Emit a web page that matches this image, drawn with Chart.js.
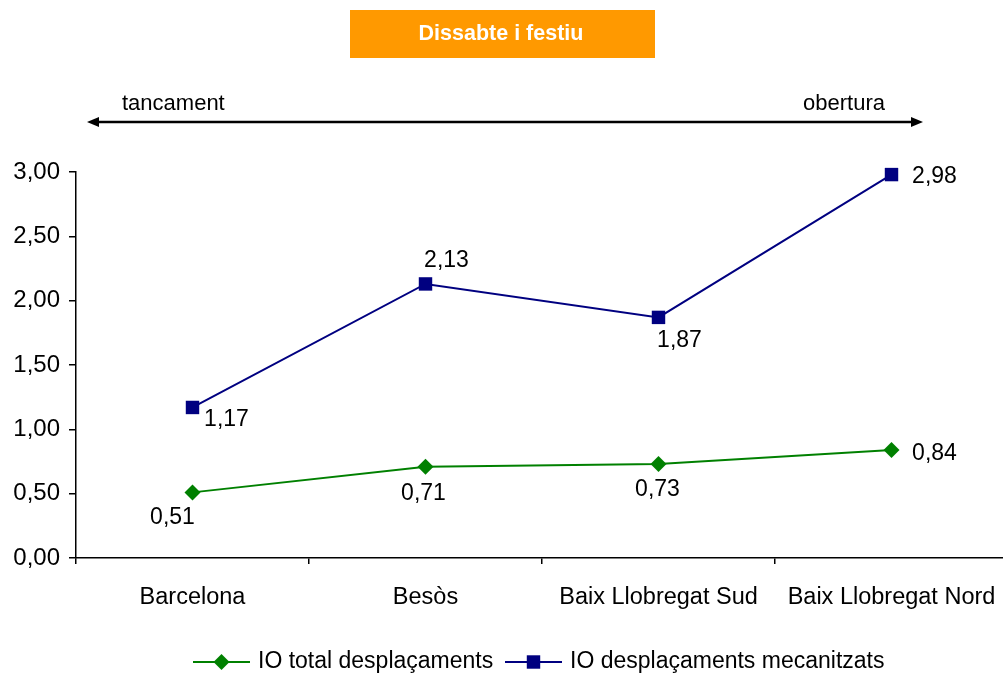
<!DOCTYPE html>
<html>
<head>
<meta charset="utf-8">
<style>
  html, body { margin: 0; padding: 0; background: #fff; overflow: hidden; }
  #wrap { width: 1040px; height: 675px; position: relative; }
</style>
<script src="https://cdn.jsdelivr.net/npm/chart.js@4/dist/chart.umd.min.js"></script>
</head>
<body>
<div id="wrap"><canvas id="chart" width="1040" height="675"></canvas></div>
<script>
// Zones and index values (dissabte i festiu)
const categories = ['Barcelona', 'Besòs', 'Baix Llobregat Sud', 'Baix Llobregat Nord'];
const ioTotal = [0.51, 0.71, 0.73, 0.84];
const ioMecanitzats = [1.17, 2.13, 1.87, 2.98];
const yMin = 0;
const yMax = 3;
const yStep = 0.5;

const FONT = '"Liberation Sans", Arial, sans-serif';
const GREEN = '#008000';
const NAVY = '#000080';

const fmt = v => v.toFixed(2).replace('.', ',');

// Where each value label sits relative to its marker (dx, dy of the label centre)
const labelOffsets = [
  [[-20, 25], [-2, 27], [-1, 26], [43, 4]],
  [[34, 12], [21, -23], [21, 23], [43, 2]]
];

const valueLabels = {
  id: 'valueLabels',
  afterDatasetsDraw(chart) {
    const ctx = chart.ctx;
    ctx.save();
    ctx.font = '23px ' + FONT;
    ctx.fillStyle = '#000';
    ctx.textAlign = 'center';
    ctx.textBaseline = 'middle';
    chart.data.datasets.forEach((ds, di) => {
      const meta = chart.getDatasetMeta(di);
      meta.data.forEach((pt, i) => {
        const off = labelOffsets[di][i];
        ctx.fillText(fmt(ds.data[i]), pt.x + off[0], pt.y + off[1]);
      });
    });
    ctx.restore();
  }
};

const decorations = {
  id: 'decorations',
  afterDraw(chart) {
    const ctx = chart.ctx;
    ctx.save();
    // heading box
    ctx.fillStyle = '#FF9900';
    ctx.fillRect(350, 10, 305, 48);
    ctx.fillStyle = '#fff';
    ctx.font = 'bold 21.5px ' + FONT;
    ctx.textAlign = 'center';
    ctx.textBaseline = 'middle';
    ctx.fillText('Dissabte i festiu', 501, 34);

    // double-headed arrow
    const ay = 122, ax1 = 87, ax2 = 923;
    ctx.strokeStyle = '#000';
    ctx.lineWidth = 2.5;
    ctx.beginPath();
    ctx.moveTo(ax1 + 8, ay);
    ctx.lineTo(ax2 - 8, ay);
    ctx.stroke();
    ctx.fillStyle = '#000';
    ctx.beginPath();
    ctx.moveTo(ax1, ay); ctx.lineTo(ax1 + 12, ay - 5); ctx.lineTo(ax1 + 12, ay + 5); ctx.closePath();
    ctx.fill();
    ctx.beginPath();
    ctx.moveTo(ax2, ay); ctx.lineTo(ax2 - 12, ay - 5); ctx.lineTo(ax2 - 12, ay + 5); ctx.closePath();
    ctx.fill();
    ctx.font = '22px ' + FONT;
    ctx.textAlign = 'left';
    ctx.fillText('tancament', 122, 104);
    ctx.fillText('obertura', 803, 104);

    // legend
    const ly = 662;
    const items = [
      { ds: chart.data.datasets[0], x0: 193, x1: 250, tx: 258 },
      { ds: chart.data.datasets[1], x0: 505, x1: 562, tx: 570 }
    ];
    items.forEach(it => {
      ctx.strokeStyle = it.ds.borderColor;
      ctx.lineWidth = 2;
      ctx.beginPath();
      ctx.moveTo(it.x0, ly);
      ctx.lineTo(it.x1, ly);
      ctx.stroke();
      ctx.fillStyle = it.ds.pointBackgroundColor;
      Chart.helpers.drawPoint(ctx, {
        pointStyle: it.ds.pointStyle,
        radius: it.ds.pointRadius,
        borderWidth: 0,
        rotation: 0
      }, (it.x0 + it.x1) / 2, ly);
      ctx.fillStyle = '#000';
      ctx.font = '23px ' + FONT;
      ctx.textAlign = 'left';
      ctx.textBaseline = 'middle';
      ctx.fillText(it.ds.label, it.tx, ly);
    });
    ctx.restore();
  }
};

new Chart(document.getElementById('chart'), {
  type: 'line',
  data: {
    labels: categories,
    datasets: [
      {
        label: 'IO total desplaçaments',
        data: ioTotal,
        borderColor: GREEN,
        backgroundColor: GREEN,
        pointBackgroundColor: GREEN,
        pointBorderWidth: 0,
        pointStyle: 'rectRot',
        pointRadius: 8,
        borderWidth: 2,
        tension: 0,
        clip: false
      },
      {
        label: 'IO desplaçaments mecanitzats',
        data: ioMecanitzats,
        borderColor: NAVY,
        backgroundColor: NAVY,
        pointBackgroundColor: NAVY,
        pointBorderWidth: 0,
        pointStyle: 'rect',
        pointRadius: 9.5,
        borderWidth: 2,
        tension: 0,
        clip: false
      }
    ]
  },
  options: {
    responsive: false,
    animation: false,
    layout: { padding: { top: 172, left: 0, right: 32, bottom: 0 } },
    plugins: {
      legend: { display: false },
      tooltip: { enabled: false },
      title: { display: false }
    },
    scales: {
      x: {
        offset: true,
        afterFit(scale) { scale.height = 117; },
        grid: {
          offset: true,
          drawOnChartArea: false,
          drawTicks: true,
          tickLength: 6,
          color: '#000',
          lineWidth: 1.5
        },
        border: { display: true, color: '#000', width: 1.5 },
        ticks: {
          color: '#000',
          font: { family: FONT, size: 23.5 },
          padding: 19,
          maxRotation: 0,
          autoSkip: false
        }
      },
      y: {
        min: yMin,
        max: yMax,
        afterFit(scale) { scale.width = 76; },
        grid: {
          drawOnChartArea: false,
          drawTicks: true,
          tickLength: 7,
          color: '#000',
          lineWidth: 1.5
        },
        border: { display: true, color: '#000', width: 1.5 },
        ticks: {
          stepSize: yStep,
          color: '#000',
          font: { family: FONT, size: 24 },
          padding: 9,
          callback: v => fmt(v)
        }
      }
    }
  },
  plugins: [valueLabels, decorations]
});
</script>
</body>
</html>
